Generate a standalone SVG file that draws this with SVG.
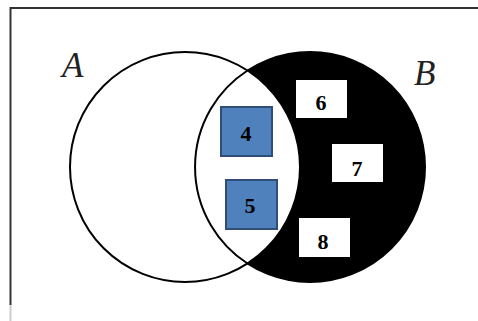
<svg xmlns="http://www.w3.org/2000/svg" width="478" height="321" viewBox="0 0 478 321">
<style>
.circ{stroke:#000;stroke-width:2}
.blue{fill:#4f81bd;stroke:#2f4d76;stroke-width:2}
.white{fill:#fff;stroke:none}
.num{font-family:"Liberation Serif","Times New Roman",serif;font-weight:bold;font-size:22px;text-anchor:middle;fill:#000}
.lbl{font-family:"Liberation Serif","Times New Roman",serif;font-style:italic;font-size:35px;fill:#222}
</style>
<rect x="0" y="0" width="478" height="321" fill="#fff"/>
<g id="frame">
<path d="M10.5 305 V8 H478" fill="none" stroke="#333" stroke-width="2"/>
<path d="M10.5 305 V321" fill="none" stroke="#ccc" stroke-width="2"/>
</g>
<g id="setB"><circle cx="310" cy="167" r="115" fill="#000" class="circ"/></g>
<g id="setA"><circle cx="185" cy="167" r="115" fill="#fff" class="circ"/>
<path d="M247.5 70.5 A115 115 0 0 0 247.5 263.5" fill="none" class="circ"/></g>
<g id="labelA"><text class="lbl" x="62" y="77">A</text></g>
<g id="labelB"><text class="lbl" x="414" y="85">B</text></g>
<g id="n4"><rect class="blue" x="221" y="107" width="51" height="49"/><text class="num" x="246" y="141">4</text></g>
<g id="n5"><rect class="blue" x="226" y="180" width="51" height="49"/><text class="num" x="250" y="213">5</text></g>
<g id="n6"><rect class="white" x="296" y="80" width="51" height="38"/><text class="num" x="321" y="110">6</text></g>
<g id="n7"><rect class="white" x="332" y="144" width="51" height="38"/><text class="num" x="357" y="176">7</text></g>
<g id="n8"><rect class="white" x="299" y="218" width="51" height="39"/><text class="num" x="323" y="249">8</text></g>
<g id="connectors"></g>
</svg>
